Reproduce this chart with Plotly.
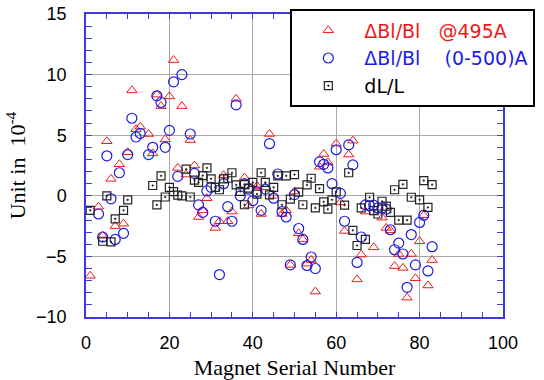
import plotly.graph_objects as go

# ---- data ----
tri_x = [1, 3, 4, 5, 6, 7, 8, 9, 10, 11, 12, 13, 15, 16, 17, 18, 19, 20, 21, 22, 23, 24, 25, 26,
         27, 28, 29, 31, 32, 33, 34, 35, 36, 38, 39, 41, 42, 43, 44, 45, 47, 48, 49, 50, 51, 52,
         53, 54, 55, 56, 57, 58, 60, 61, 62, 63, 64, 65, 66, 67, 69, 71, 72, 73, 74, 75, 76, 77,
         78, 79, 80, 81, 82, 83]
tri_y = [-6.6, -0.9, -3.3, 4.5, 1.4, -2.5, 2.6, -2.3, 3.6, 8.7, 5.5, 5.7, 5.1, 3.5, 8.35, 7.4, 4.65,
         8.2, 11.2, 2.3, 7.4, 1.75, 4.6, 2.5, -1.75, -1.2, -0.2, -2.65, -2.1, 1.7, -2.1, -1.3, 8.0,
         1.5, -0.8, 0.8, -1.5, 0.7, 5.1, 0.0, -1.5, -1.2, -5.7, 0.35, -3.1, -3.6, -5.6, -5.3, -7.9,
         2.4, 3.45, 2.75, 4.3, -0.55, -2.9, 3.4, 4.55, -6.9, -4.85, -1.3, -4.25, -1.8, -2.65, -2.85,
         -5.8, -4.8, -5.95, -8.4, -4.8, -6.8, -3.75, -1.6, -7.4, -5.3]

cir_x = [3, 4, 5, 6, 7, 8, 9, 10, 11, 12, 13, 15, 16, 17, 18, 19, 20, 21, 22, 23, 25, 26, 27, 28,
         29, 30, 31, 32, 33, 34, 35, 36, 37, 38, 39, 40, 41, 42, 43, 44, 45, 46, 47, 48, 49, 50,
         51, 52, 53, 54, 55, 56, 57, 58, 59, 60, 61, 62, 63, 64, 65, 66, 67, 68, 69, 70, 71, 72,
         73, 74, 75, 76, 77, 78, 79, 80, 81, 82, 83]
cir_y = [-1.5, -3.4, 3.3, -0.25, -3.6, 1.9, -3.1, 3.4, 6.4, 4.85, 5.15, 3.4, 4.0, 8.25, 7.7, 4.0,
         5.4, 9.4, 1.6, 10.0, 5.1, 1.85, -0.75, -1.37, 0.4, 0.7, -2.1, -6.5, 1.0, -0.9, -2.1, 7.5,
         0.0, 1.0, 0.55, -0.4, 0.33, -1.2, 0.55, 4.3, -0.2, 1.8, -1.3, -1.75, -5.7, 0.1, -2.7,
         -3.6, -5.75, -5.05, -6.0, 2.8, 2.6, 2.3, 1.0, 3.8, 0.2, -2.1, 4.2, 2.55, -5.5, -3.4,
         -0.75, -0.82, -0.77, -1.0, -1.0, -1.1, -2.8, -4.45, -3.9, -4.8, -7.55, -3.2, -5.7, -2.2,
         -1.6, -6.2, -4.2]

sq_x = [1, 4, 5, 6, 7, 9, 10, 16, 17, 18, 19, 20, 21, 22, 23, 24, 25, 26, 27, 28, 29, 30, 31, 32,
        33, 34, 35, 36, 37, 38, 38, 39, 40, 41, 42, 43, 44, 45, 46, 47, 48, 49, 50, 51, 52, 53,
        54, 55, 56, 57, 58, 59, 60, 62, 63, 64, 65, 66, 67, 68, 69, 70, 71, 72, 73, 74, 75, 76,
        77, 78, 80, 81, 82, 83]
sq_y = [-1.2, -3.75, 0.0, -3.8, -1.9, -1.2, -0.33, 0.85, -0.75, 1.65, -0.1, 0.7, 0.35, 0.05, 0.0,
        2.2, -0.1, 1.3, 1.1, 1.67, 2.3, 1.4, 0.7, 0.5, 1.4, 1.45, 1.9, 0.9, 0.36, 0.93, -0.74,
        0.63, 1.1, 0.14, 1.9, 1.1, 0.08, 0.7, 1.65, -0.74, 1.65, -0.27, 1.75, 0.3, -0.74, 0.9,
        1.45, -1.0, 0.6, -0.5, -1.1, -0.33, 0.33, -0.77, 1.9, -2.85, -4.1, -1.0, -3.6, -0.12,
        -1.22, -1.5, -0.45, -0.85, -1.37, 0.5, -2.0, 0.95, -2.0, -0.12, -0.33, 1.26, -0.96, 0.92]

names = ["\u0394Bl/Bl\u00a0\u00a0\u00a0@495A",
         "\u0394Bl/Bl\u00a0\u00a0\u00a0\u00a0(0-500)A",
         "dL/L"]
RED = "#f01818"
BLUE = "#1c1ce8"
BLK = "#222222"
FRAME = "#3a3ae0"
GRID = "#a8a8a8"

fig = go.Figure()
fig.add_trace(go.Scatter(
    x=tri_x, y=tri_y, mode="markers",
    name=f"<span style='color:{RED}'>{names[0]}</span>",
    marker=dict(symbol="triangle-up-open", size=9, color=RED, line=dict(width=1))))
fig.add_trace(go.Scatter(
    x=cir_x, y=cir_y, mode="markers",
    name=f"<span style='color:{BLUE}'>{names[1]}</span>",
    marker=dict(symbol="circle-open", size=10, color=BLUE, line=dict(width=1.2))))
fig.add_trace(go.Scatter(
    x=sq_x, y=sq_y, mode="markers",
    name=names[2],
    marker=dict(symbol="square-open-dot", size=8, color=BLK, line=dict(width=1.2))))

fig.update_layout(
    width=544, height=380,
    margin=dict(l=86, r=41, t=14, b=63, autoexpand=False),
    paper_bgcolor="white", plot_bgcolor="white",
    font=dict(family="Liberation Sans, Arial, sans-serif", size=18, color="black"),
    showlegend=True,
    legend=dict(
        x=0.49, y=1.015, xanchor="left", yanchor="top",
        bgcolor="white", bordercolor="black", borderwidth=2,
        font=dict(size=19, family="DejaVu Sans, Verdana, sans-serif"),
        itemwidth=62, tracegroupgap=0,
    ),
    xaxis=dict(
        range=[0, 100], dtick=20, tick0=0, automargin=False,
        showline=True, linecolor=FRAME, linewidth=1.5, mirror="allticks",
        ticks="inside", ticklen=5, tickcolor=FRAME, tickwidth=1,
        showgrid=True, gridcolor=GRID, gridwidth=1, zeroline=False,
        minor=dict(dtick=5, ticks="inside", ticklen=5, tickcolor=FRAME, showgrid=False),
        ticklabelstandoff=9,
        title=dict(text="Magnet Serial Number", standoff=12,
                   font=dict(family="Liberation Serif, Times New Roman, serif", size=22)),
    ),
    yaxis=dict(
        range=[-10, 15], dtick=5, tick0=0, automargin=False,
        showline=True, linecolor=FRAME, linewidth=1.5, mirror="allticks",
        ticks="inside", ticklen=6, tickcolor=FRAME, tickwidth=1,
        showgrid=True, gridcolor=GRID, gridwidth=1,
        zeroline=True, zerolinecolor=GRID, zerolinewidth=1,
        minor=dict(dtick=1, ticks="inside", ticklen=6, tickcolor=FRAME, showgrid=False),
        ticklabelstandoff=14,
        title=dict(text="Unit in  10<sup>-4</sup>", standoff=4,
                   font=dict(family="Liberation Serif, Times New Roman, serif", size=22)),
    ),
)

fig.write_html("out.html")
